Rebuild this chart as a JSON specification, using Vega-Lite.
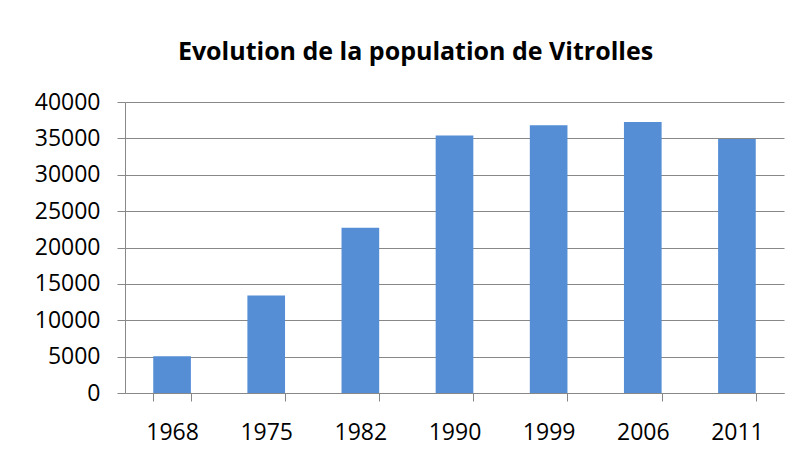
{
  "$schema": "https://vega.github.io/schema/vega-lite/v6.json",
  "autosize": "none",
  "width": 659,
  "height": 291,
  "padding": {"left": 125, "top": 102, "right": 7, "bottom": 61},
  "background": "white",
  "title": {
    "text": "Evolution de la population de Vitrolles",
    "font": "Open Sans",
    "fontSize": 25,
    "fontWeight": "bold",
    "color": "black",
    "anchor": "middle",
    "frame": "group",
    "dx": -39,
    "offset": 26
  },
  "data": {
    "values": [
      {"annee": "1968", "population": 5060},
      {"annee": "1975", "population": 13400},
      {"annee": "1982", "population": 22700},
      {"annee": "1990", "population": 35400},
      {"annee": "1999", "population": 36800},
      {"annee": "2006", "population": 37250},
      {"annee": "2011", "population": 34900}
    ]
  },
  "mark": {"type": "bar", "color": "#558ED5"},
  "encoding": {
    "x": {
      "field": "annee",
      "type": "nominal",
      "sort": null,
      "title": null,
      "scale": {"paddingInner": 0.6, "paddingOuter": 0.3},
      "axis": {
        "labelAngle": 0,
        "labelFont": "Open Sans",
        "labelFontSize": 23,
        "labelColor": "black",
        "labelPadding": 20,
        "tickSize": 8,
        "tickColor": "#888888",
        "domainColor": "#888888",
        "tickBand": "extent",
        "grid": false
      }
    },
    "y": {
      "field": "population",
      "type": "quantitative",
      "title": null,
      "scale": {"domain": [0, 40000], "nice": false},
      "axis": {
        "values": [0, 5000, 10000, 15000, 20000, 25000, 30000, 35000, 40000],
        "format": "d",
        "labelFont": "Open Sans",
        "labelFontSize": 23,
        "labelColor": "black",
        "labelPadding": 17,
        "tickSize": 8,
        "tickColor": "#888888",
        "domainColor": "#888888",
        "gridColor": "#888888",
        "gridOpacity": 1,
        "grid": true
      }
    }
  },
  "config": {
    "view": {"stroke": null}
  }
}
